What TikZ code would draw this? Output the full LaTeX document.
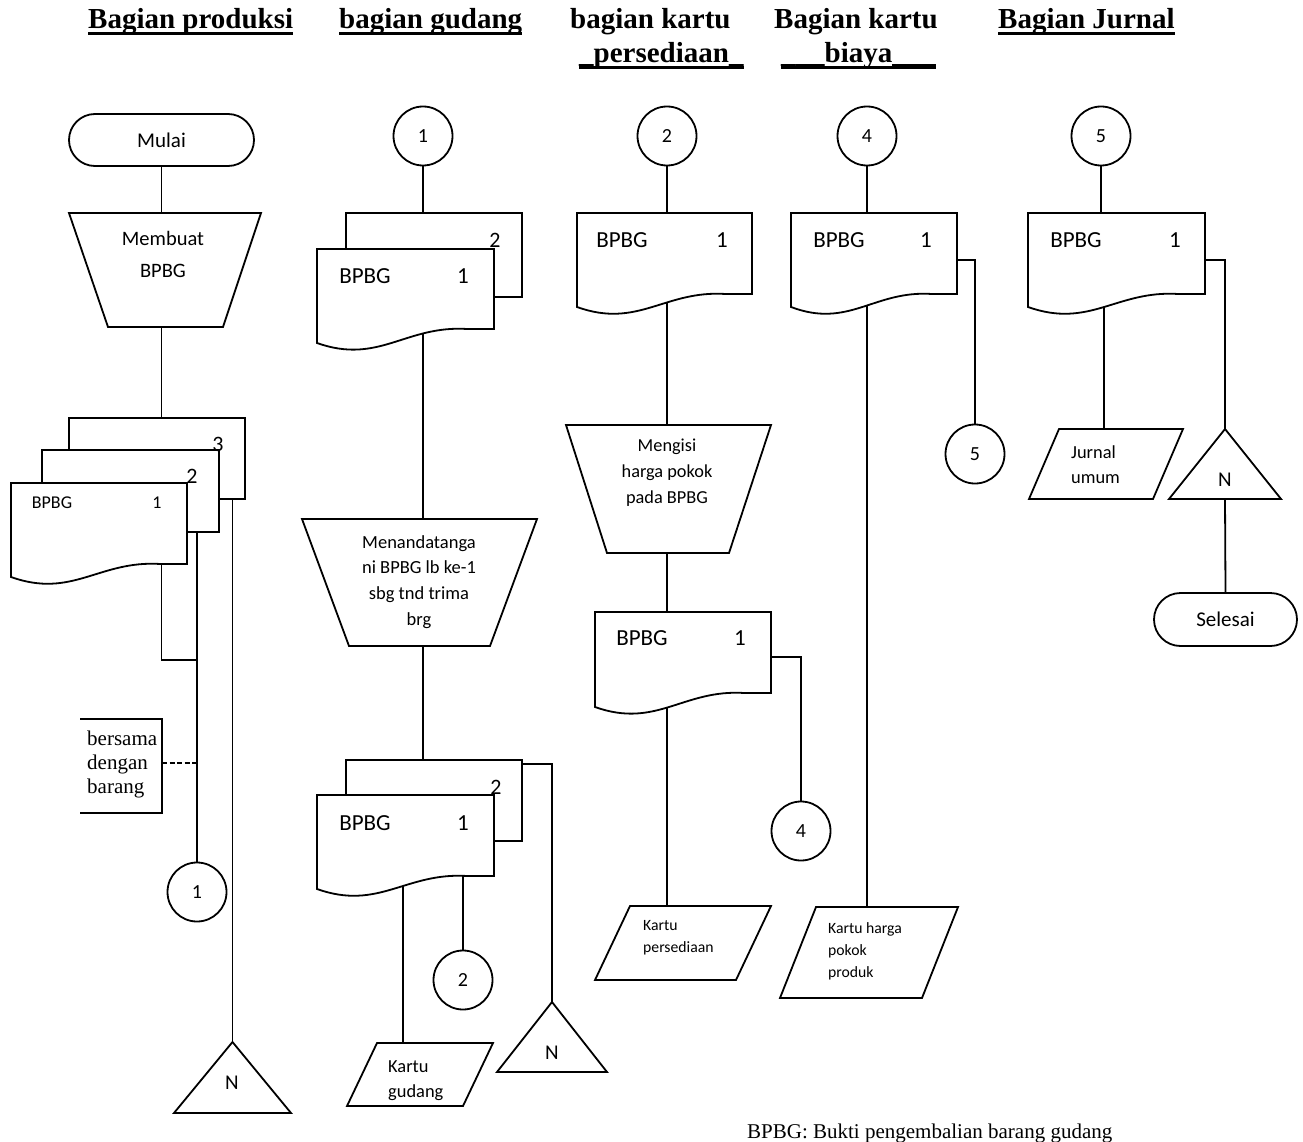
\documentclass[tikz,border=0pt]{standalone}
\usepackage{fontspec}
\setmainfont{Carlito}
\newfontfamily\tnr{Liberation Serif}
\usetikzlibrary{calc,shapes.misc}
\pgfdeclarelayer{paper}
\pgfdeclarelayer{wires}
\pgfsetlayers{paper,wires,main}

\tikzset{
  lw/.style={line width=1.8pt},
  shp/.style={lw, draw=black, fill=white, line join=miter},
  box/.style={rectangle, draw=none, inner sep=0pt, outer sep=0pt},
  page/.style={box, shp},
  conn/.style={circle, shp, minimum size=59pt, inner sep=0pt, font=\fontsize{20}{24}\selectfont},
  term/.style={rounded rectangle, shp, inner sep=0pt, font=\fontsize{21}{25}\selectfont},
  wire/.style={lw, draw=black},
  doclbl/.style={inner sep=0pt, font=\fontsize{23}{27}\selectfont},
  stacklbl/.style={inner sep=0pt, font=\fontsize{22}{26}\selectfont},
  proc/.style={inner sep=0pt, align=center},
  cardtxt/.style={inner sep=0pt, anchor=west, align=left},
  head/.style={inner sep=0pt, anchor=base west, font=\tnr\bfseries\fontsize{29}{34}\selectfont},
  uline/.style={line width=2.2pt},
}

% document symbol: flat top, wavy bottom rising to the right
\newcommand\docpath[2]{%
  \draw[shp] (#1.south west) -- (#1.north west) -- (#1.north east) -- ([yshift=#2pt]#1.south east)
    -- ($(#1.south west)!0.85!(#1.south east)+(0,-#2)$)
    .. controls ($(#1.south west)!0.5!(#1.south east)+(0,-#2-4)$)
       and ($(#1.south west)!0.35!(#1.south east)+(0,22)$) .. (#1.south west) -- cycle;}
% manual operation: wide top, narrow bottom
\newcommand\trapath[3]{%
  \draw[shp] (#1.north west) -- (#1.north east) -- ([xshift=-#3pt]#1.south east)
    -- ([xshift=#2pt]#1.south west) -- cycle;}
% card / input-output parallelogram
\newcommand\parapath[2]{%
  \draw[shp] ([xshift=#2pt]#1.north west) -- (#1.north east)
    -- ([xshift=-#2pt]#1.south east) -- (#1.south west) -- cycle;}
% offline file triangle
\newcommand\tripath[1]{%
  \draw[shp] (#1.north) -- (#1.south east) -- (#1.south west) -- cycle;}

\begin{document}
\begin{tikzpicture}[x=1pt,y=-1pt]
\useasboundingbox (0,0) rectangle (1303,1142);
\begin{pgfonlayer}{paper}
  \fill[white] (0,0) rectangle (1303,1142);
\end{pgfonlayer}

% ---------- column headings ----------
\node[head] (h1)  at (88,29)  {Bagian produksi};
\node[head] (h2)  at (339,29) {bagian gudang};
\node[head] (h3a) at (570,29) {bagian kartu};
\node[head] (h3b) at (579,63) {\_persediaan\_};
\node[head] (h4a) at (774,29) {Bagian kartu};
\node[head] (h4b) at (781,63) {\_\_\_biaya\_\_\_};
\node[head] (h5)  at (998,29) {Bagian Jurnal};
\foreach \h in {h1,h2,h3b,h4b,h5}
  \draw[uline] ([yshift=-4.5pt]\h.base west) -- ([yshift=-4.5pt]\h.base east);

% ---------- Bagian produksi ----------
\node[term, minimum width=185pt, minimum height=52pt] (mulai) at (161.5,140) {Mulai};
\node[box, minimum width=192pt, minimum height=114pt] (membuat) at (165,270) {};
\trapath{membuat}{39}{38}
\node[proc, font=\fontsize{20.5}{32}\selectfont] (membuatT) at (163,254) {Membuat\\BPBG};

\node[page, minimum width=176pt, minimum height=81pt, anchor=north west] (p3) at (69,418) {};
\node[page, minimum width=177pt, minimum height=82pt, anchor=north west] (p2) at (42,450) {};
\node[box, minimum width=176pt, minimum height=94pt, anchor=north west] (d1) at (11,483) {};
\docpath{d1}{13}
\node[stacklbl] (p3n) at (218,444) {3};
\node[stacklbl] (p2n) at (192,476) {2};
\node[doclbl, font=\fontsize{18}{22}\selectfont] (d1a) at (52,503) {BPBG};
\node[doclbl, font=\fontsize{18}{22}\selectfont] (d1b) at (157,503) {1};

\node[box, minimum width=82pt, minimum height=94pt, anchor=north west] (ann) at (80,719) {};
\draw[lw] (ann.north west) -- (ann.north east) -- (ann.south east) -- (ann.south west);
\node[cardtxt, font=\tnr\fontsize{21}{24}\selectfont] (annT) at (87,764) {bersama\\dengan\\barang};

\node[conn] (c1o) at (197,892) {1};
\node[box, minimum width=117pt, minimum height=71pt] (tri1) at (232.5,1077.5) {};
\tripath{tri1}
\node[inner sep=0pt, font=\fontsize{21}{25}\selectfont] (tri1N) at (232,1083) {N};

% ---------- bagian gudang ----------
\node[conn] (g1) at (423,136) {1};
\node[page, minimum width=176pt, minimum height=84pt, anchor=north west] (pg1) at (346,213) {};
\node[box, minimum width=177pt, minimum height=94pt, anchor=north west] (dg1) at (317,249) {};
\docpath{dg1}{14}
\node[stacklbl] (pg1n) at (495,240) {2};
\node[doclbl] (dg1a) at (365,276) {BPBG};
\node[doclbl] (dg1b) at (463,276) {1};

\node[box, minimum width=235pt, minimum height=127pt] (mnd) at (419.5,582.5) {};
\trapath{mnd}{47}{47}
\node[proc, font=\fontsize{18.5}{25.7}\selectfont] (mndT) at (419,582) {Menandatanga\\ni BPBG lb ke-1\\sbg tnd trima\\brg};

\node[page, minimum width=176pt, minimum height=81pt, anchor=north west] (pg2) at (346,760) {};
\node[box, minimum width=177pt, minimum height=94pt, anchor=north west] (dg2) at (317,795) {};
\docpath{dg2}{13}
\node[stacklbl] (pg2n) at (496,787) {2};
\node[doclbl] (dg2a) at (365,823) {BPBG};
\node[doclbl] (dg2b) at (463,823) {1};

\node[conn] (g2) at (463,980) {2};
\node[box, minimum width=146pt, minimum height=63pt] (kg) at (420,1074.5) {};
\parapath{kg}{30}
\node[cardtxt, font=\fontsize{18.4}{25}\selectfont] (kgT) at (388,1080.5) {Kartu\\gudang};
\node[box, minimum width=110pt, minimum height=70pt] (tri2) at (552,1037) {};
\tripath{tri2}
\node[inner sep=0pt, font=\fontsize{21}{25}\selectfont] (tri2N) at (552,1053) {N};

% ---------- bagian kartu persediaan ----------
\node[conn] (k2) at (667,136) {2};
\node[box, minimum width=175pt, minimum height=94pt, anchor=north west] (dk1) at (577,213) {};
\docpath{dk1}{13}
\node[doclbl] (dk1a) at (622,240) {BPBG};
\node[doclbl] (dk1b) at (722,240) {1};

\node[box, minimum width=205pt, minimum height=128pt] (mg) at (668.5,489) {};
\trapath{mg}{41}{42}
\node[proc, font=\fontsize{18.3}{26}\selectfont] (mgT) at (667,473) {Mengisi\\harga pokok\\pada BPBG};

\node[box, minimum width=176pt, minimum height=95pt, anchor=north west] (dk2) at (595,612) {};
\docpath{dk2}{14}
\node[doclbl] (dk2a) at (642,638) {BPBG};
\node[doclbl] (dk2b) at (740,638) {1};

\node[conn] (k4o) at (801,831) {4};
\node[box, minimum width=176pt, minimum height=74pt] (kp) at (683,943) {};
\parapath{kp}{35}
\node[cardtxt, font=\fontsize{15.7}{22}\selectfont] (kpT) at (643,938) {Kartu\\persediaan};

% ---------- Bagian kartu biaya ----------
\node[conn] (b4) at (867,136) {4};
\node[box, minimum width=166pt, minimum height=94pt, anchor=north west] (db) at (791,213) {};
\docpath{db}{13}
\node[doclbl] (dba) at (839,240) {BPBG};
\node[doclbl] (dbb) at (926,240) {1};

\node[conn] (b5o) at (975,454) {5};
\node[box, minimum width=178pt, minimum height=91pt] (kh) at (869,952.5) {};
\parapath{kh}{36}
\node[cardtxt, font=\fontsize{15.7}{22}\selectfont] (khT) at (828,951) {Kartu harga\\pokok\\produk};

% ---------- Bagian Jurnal ----------
\node[conn] (j5) at (1101,136) {5};
\node[box, minimum width=177pt, minimum height=94pt, anchor=north west] (dj) at (1028,213) {};
\docpath{dj}{13}
\node[doclbl] (dja) at (1076,240) {BPBG};
\node[doclbl] (djb) at (1175,240) {1};

\node[box, minimum width=154pt, minimum height=70pt] (ju) at (1106,464) {};
\parapath{ju}{30}
\node[cardtxt, font=\fontsize{18.4}{25.5}\selectfont] (juT) at (1071,464.5) {Jurnal\\umum};

\node[box, minimum width=112pt, minimum height=70pt] (tri3) at (1225,464) {};
\tripath{tri3}
\node[inner sep=0pt, font=\fontsize{21}{25}\selectfont] (tri3N) at (1225,480) {N};
\node[term, minimum width=143pt, minimum height=53pt] (sel) at (1225.5,619.5) {Selesai};

% ---------- footnote ----------
\node[inner sep=0pt, anchor=base west, font=\tnr\fontsize{21}{25}\selectfont] (note) at (747,1138)
  {BPBG: Bukti pengembalian barang gudang};

% ---------- flow lines (under the symbols) ----------
\begin{pgfonlayer}{wires}
  \coordinate (j1) at (197,660);
  \draw[wire] (mulai.south) -- (mulai.south |- membuat.north);
  \draw[wire] (mulai.south |- membuat.south) -- (mulai.south |- p3.north);
  \draw[wire] (mulai.south |- d1.center) |- (j1);
  \draw[wire] (c1o.north |- p2.center) -- (c1o.north);
  \draw[wire] (tri1.north |- p3.center) -- (tri1.north);
  \draw[wire, line width=1.2pt, dash pattern=on 5pt off 2.5pt]
    ([yshift=3pt]ann.east) -- ([yshift=3pt]ann.east -| c1o.north);

  \draw[wire] (g1.south) -- (g1.south |- pg1.north);
  \draw[wire] (g1.south |- dg1.center) -- (g1.south |- mnd.north);
  \draw[wire] (g1.south |- mnd.south) -- (g1.south |- pg2.north);
  \draw[wire] ([yshift=-4pt]pg2.north east) -| (tri2.north);
  \draw[wire] ([xshift=-17pt]kg.north |- dg2.center) -- ([xshift=-17pt]kg.north);
  \draw[wire] (g2.north |- dg2.center) -- (g2.north);

  \draw[wire] (k2.south) -- (k2.south |- dk1.north);
  \draw[wire] (k2.south |- dk1.center) -- (k2.south |- mg.north);
  \draw[wire] (k2.south |- mg.south) -- (k2.south |- dk2.north);
  \draw[wire] ([yshift=-45pt]dk2.north east) -| (k4o.north);
  \draw[wire] (k2.south |- dk2.center) -- (k2.south |- kp.north);

  \draw[wire] (b4.south) -- (b4.south |- db.north);
  \draw[wire] ([yshift=-47pt]db.north east) -| (b5o.north);
  \draw[wire] (b4.south |- db.center) -- (b4.south |- kh.north);

  \draw[wire] (j5.south) -- (j5.south |- dj.north);
  \draw[wire] ([yshift=-47pt]dj.north east) -| (tri3.north);
  \draw[wire] ([xshift=3pt]j5.south |- dj.center) -- ([xshift=3pt]j5.south |- ju.north);
  \draw[wire] (tri3.south) -- (sel.north);
\end{pgfonlayer}
\end{tikzpicture}
\end{document}
